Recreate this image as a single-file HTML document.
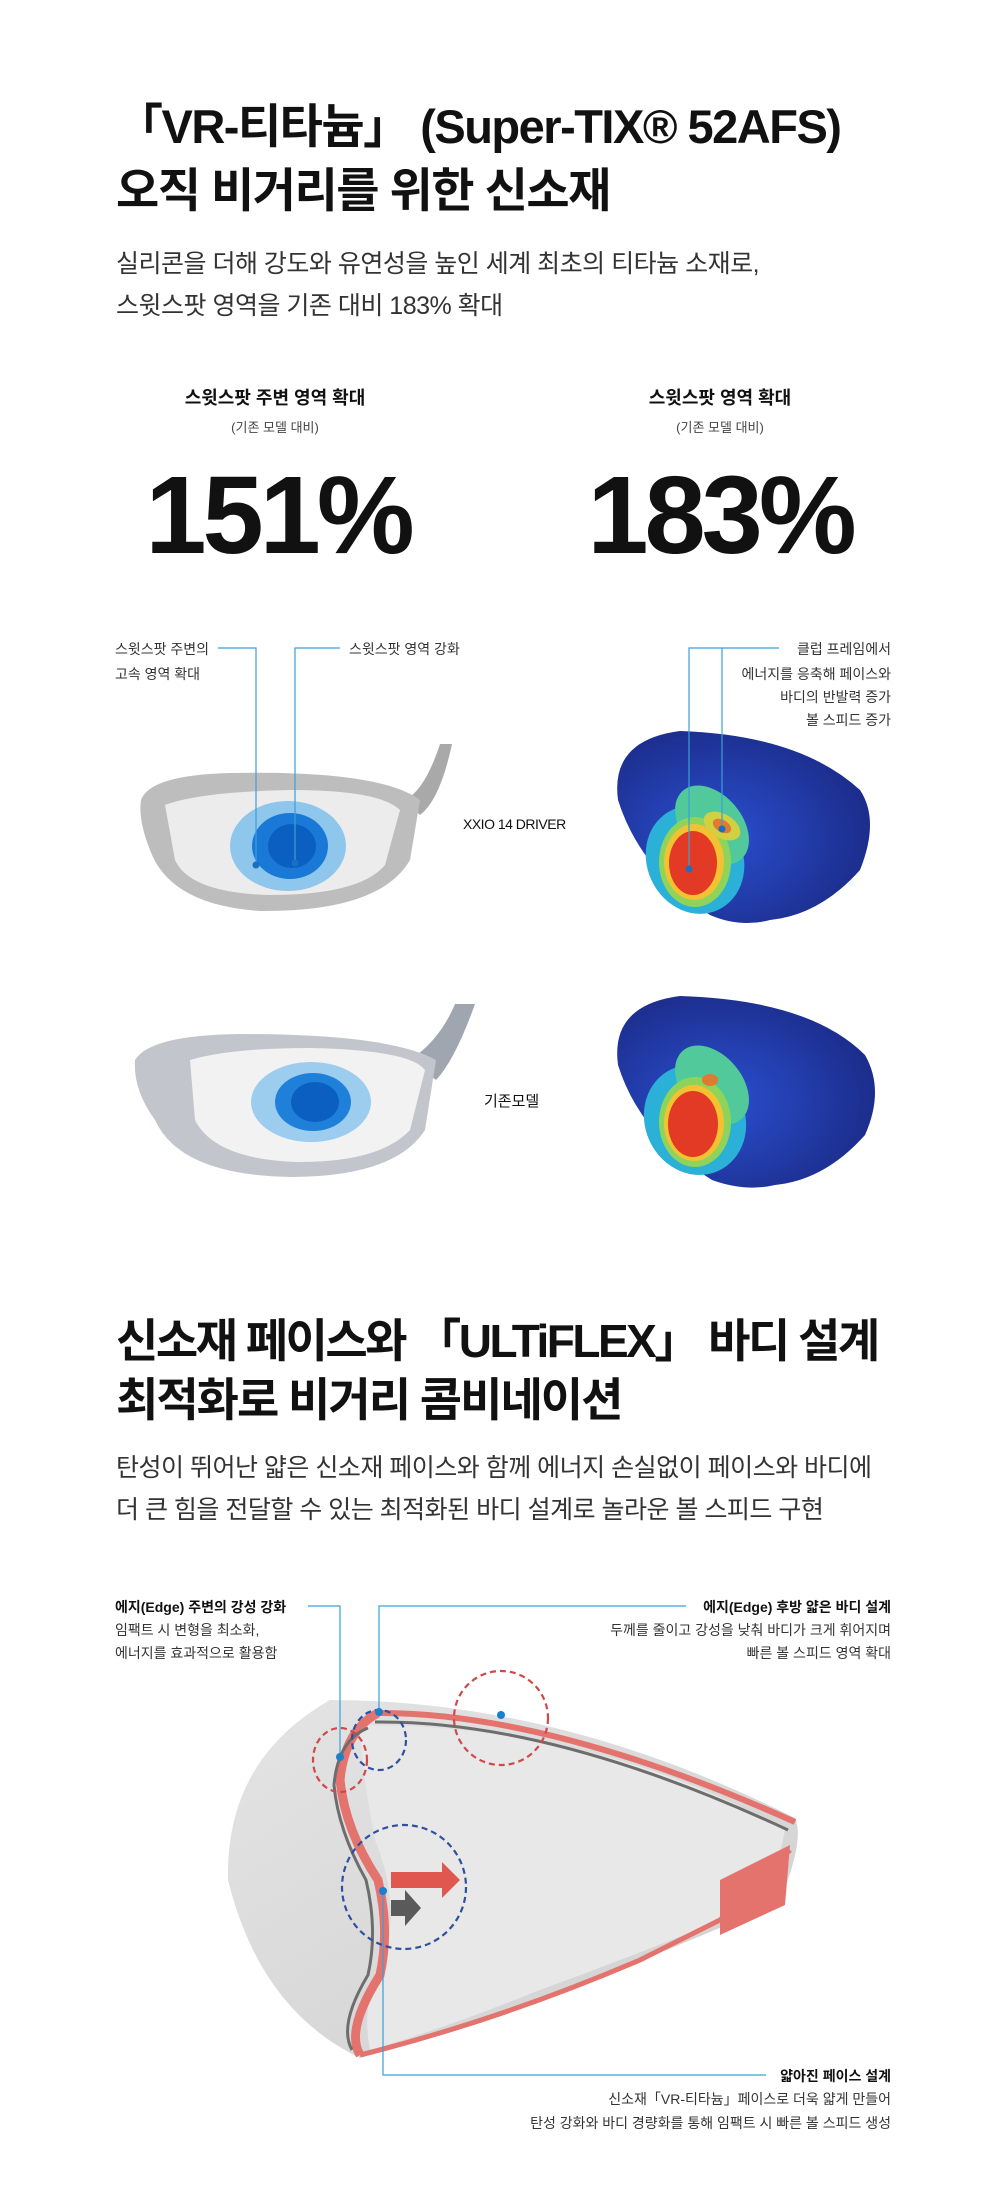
<!DOCTYPE html>
<html><head><meta charset="utf-8"><style>
body{margin:0;background:#fff;}
#p{position:relative;width:1000px;height:2203px;overflow:hidden;font-family:"Liberation Sans","Noto Sans CJK KR",sans-serif;color:#111;}
.t{position:absolute;white-space:nowrap;}
.h1{font-size:47px;font-weight:700;letter-spacing:-1.5px;left:116px;}
.sub{font-size:25px;color:#333;left:116px;letter-spacing:-0.5px;}
.sm{font-size:14px;color:#333;}
.b{font-weight:700;color:#111;}
.r{text-align:right;}
</style></head><body><div id="p">
<div class="t h1" style="top:88px">「VR-티타늄」 (Super-TIX® 52AFS)</div>
<div class="t h1" style="top:152px">오직 비거리를 위한 신소재</div>
<div class="t sub" style="top:244px">실리콘을 더해 강도와 유연성을 높인 세계 최초의 티타늄 소재로,</div>
<div class="t sub" style="top:286px">스윗스팟 영역을 기존 대비 183% 확대</div>

<div class="t" style="left:170px;width:210px;text-align:center;top:384px;font-size:18px;font-weight:700">스윗스팟 주변 영역 확대</div>
<div class="t" style="left:170px;width:210px;text-align:center;top:417px;font-size:13px;color:#444">(기존 모델 대비)</div>
<div class="t" style="left:118px;width:320px;text-align:center;top:452px;font-size:110px;font-weight:700;letter-spacing:-4px">151%</div>
<div class="t" style="left:615px;width:210px;text-align:center;top:384px;font-size:18px;font-weight:700">스윗스팟 영역 확대</div>
<div class="t" style="left:615px;width:210px;text-align:center;top:417px;font-size:13px;color:#444">(기존 모델 대비)</div>
<div class="t" style="left:560px;width:320px;text-align:center;top:452px;font-size:110px;font-weight:700;letter-spacing:-4px">183%</div>

<svg class="t" style="left:0;top:0" width="1000" height="2203">
<defs>
<radialGradient id="hm" cx="0.4" cy="0.55" r="0.6"><stop offset="0" stop-color="#2a4fd0"/><stop offset="1" stop-color="#1c2d8c"/></radialGradient>
<linearGradient id="gh" x1="0" y1="0" x2="1" y2="1"><stop offset="0" stop-color="#e4e4e4"/><stop offset="1" stop-color="#cfcfcf"/></linearGradient>
</defs>
<!-- driver 1 -->
<path d="M405,800 Q425,790 440,744 L452,744 Q440,800 420,815 Z" fill="#a9a9a9"/>
<path d="M141,800 Q150,775 230,773 Q380,770 420,800 L410,860 Q380,912 260,911 Q170,905 150,850 Q138,820 141,800Z" fill="#bdbdbd"/>
<path d="M165,805 Q200,792 290,790 Q380,790 400,810 L385,865 Q360,895 270,895 Q190,893 175,860Z" fill="#ececec"/>
<ellipse cx="288" cy="846" rx="58" ry="45" fill="#8ec6ec"/>
<ellipse cx="290" cy="846" rx="38" ry="33" fill="#1a78d6"/>
<ellipse cx="292" cy="846" rx="24" ry="22" fill="#0b5fc0"/>
<!-- driver 2 -->
<path d="M410,1060 Q440,1040 455,1004 L475,1004 Q455,1060 436,1080Z" fill="#a0a6b0"/>
<path d="M135,1060 Q150,1035 240,1034 Q390,1034 436,1060 L425,1130 Q395,1177 290,1177 Q180,1175 155,1120 Q133,1090 135,1060Z" fill="#c2c6cc"/>
<path d="M190,1060 Q230,1048 310,1048 Q410,1050 425,1070 L410,1130 Q380,1162 300,1162 Q215,1160 195,1120Z" fill="#f2f2f2"/>
<ellipse cx="311" cy="1102" rx="60" ry="40" fill="#9cccee"/>
<ellipse cx="313" cy="1102" rx="38" ry="29" fill="#1f80da"/>
<ellipse cx="315" cy="1102" rx="24" ry="20" fill="#0b5fc0"/>
<!-- heatmap 1 -->
<path d="M680,731 Q800,735 860,790 Q880,820 860,870 Q820,915 770,920 Q740,928 710,915 Q640,870 618,800 Q610,740 680,731Z" fill="url(#hm)"/>
<ellipse cx="695" cy="860" rx="48" ry="55" fill="#2bb0d8" transform="rotate(-25 695 860)"/>
<ellipse cx="712" cy="825" rx="30" ry="45" fill="#52c99a" transform="rotate(-40 712 825)"/>
<ellipse cx="695" cy="862" rx="36" ry="45" fill="#8fd45a"/>
<ellipse cx="694" cy="862" rx="30" ry="38" fill="#f3c232"/>
<ellipse cx="693" cy="863" rx="24" ry="32" fill="#e33a25"/>
<ellipse cx="722" cy="826" rx="20" ry="12" fill="#d0d040" transform="rotate(30 722 826)"/>
<ellipse cx="722" cy="826" rx="10" ry="6" fill="#e07a30" transform="rotate(30 722 826)"/>
<!-- heatmap 2 -->
<path d="M680,996 Q810,1000 865,1055 Q885,1090 865,1135 Q825,1180 775,1185 Q745,1192 712,1180 Q640,1135 618,1065 Q610,1005 680,996Z" fill="url(#hm)"/>
<ellipse cx="695" cy="1120" rx="50" ry="56" fill="#2bb0d8" transform="rotate(-25 695 1120)"/>
<ellipse cx="712" cy="1085" rx="30" ry="45" fill="#52c99a" transform="rotate(-40 712 1085)"/>
<ellipse cx="695" cy="1122" rx="36" ry="45" fill="#8fd45a"/>
<ellipse cx="694" cy="1123" rx="30" ry="38" fill="#f3c232"/>
<ellipse cx="693" cy="1124" rx="25" ry="33" fill="#e33a25"/>
<ellipse cx="710" cy="1080" rx="8" ry="6" fill="#e07a30"/>
<!-- leader lines top -->
<g stroke="#3aa0d8" stroke-width="1.2" fill="none">
<path d="M218,648 H256 V865"/><path d="M340,648 H295 V863"/>
<path d="M779,648 H689 V869"/><path d="M722,648 V829"/>
</g>
<circle cx="256" cy="865" r="3.5" fill="#1a6fc0"/><circle cx="295" cy="863" r="3.5" fill="#1a6fc0"/>
<circle cx="689" cy="869" r="3.5" fill="#1a6fc0"/><circle cx="722" cy="829" r="3.5" fill="#1a6fc0"/>

<!-- cutaway head -->
<path d="M330,1700 Q560,1700 795,1818 Q805,1840 780,1900 Q700,1940 560,1990 Q430,2040 360,2058 Q260,2010 228,1880 Q225,1760 330,1700Z" fill="url(#gh)"/>
<path d="M360,1725 Q600,1725 785,1830 L770,1900 Q650,1950 540,1990 Q440,2030 370,2050 Q360,2000 385,1960 Q400,1900 375,1840 Q360,1760 360,1725Z" fill="#e8e8e8"/>
<path d="M380,1713 Q552,1713 795,1822" stroke="#e4736e" stroke-width="6" fill="none"/>
<path d="M375,1722 Q552,1720 788,1830" stroke="#6d6d6d" stroke-width="3" fill="none"/>
<path d="M378,1713 Q345,1730 340,1780 Q345,1830 378,1880 Q390,1930 380,1975 Q345,2030 360,2055" stroke="#e4736e" stroke-width="9" fill="none"/>
<path d="M368,1728 Q338,1740 334,1785 Q338,1830 366,1880 Q378,1930 368,1975 Q338,2025 352,2050" stroke="#6d6d6d" stroke-width="3" fill="none"/>
<path d="M360,2055 Q500,2020 640,1960 L720,1920 L790,1850" stroke="#e4736e" stroke-width="5" fill="none"/>
<path d="M720,1880 L790,1845 L785,1905 L720,1935Z" fill="#e4736e"/>
<g fill="none" stroke-width="2.2" stroke-dasharray="6 4">
<ellipse cx="379" cy="1740" rx="27" ry="30" stroke="#2f4fa0"/>
<ellipse cx="340" cy="1760" rx="27" ry="32" stroke="#d04848"/>
<ellipse cx="501" cy="1718" rx="47" ry="47" stroke="#d04848"/>
<ellipse cx="404" cy="1887" rx="62" ry="62" stroke="#2f4fa0"/>
</g>
<path d="M391,1872 H442 V1862 L460,1880 L442,1898 V1888 H391Z" fill="#e0574f"/>
<path d="M391,1900 H405 V1890 L421,1908 L405,1926 V1916 H391Z" fill="#5a5a5a"/>
<g stroke="#3aa0d8" stroke-width="1.2" fill="none">
<path d="M308,1606 H340 V1759"/><path d="M686,1606 H379 V1713"/>
<path d="M383,1891 V2075 H766"/>
</g>
<g fill="#1a7fcc"><circle cx="379" cy="1712" r="4"/><circle cx="501" cy="1715" r="4"/><circle cx="340" cy="1757" r="4"/><circle cx="383" cy="1891" r="4"/></g>
</svg>

<div class="t sm" style="left:115px;top:639px">스윗스팟 주변의</div>
<div class="t sm" style="left:115px;top:664px">고속 영역 확대</div>
<div class="t sm" style="left:349px;top:639px">스윗스팟 영역 강화</div>
<div class="t sm r" style="right:109px;top:639px">클럽 프레임에서</div>
<div class="t sm r" style="right:109px;top:664px">에너지를 응축해 페이스와</div>
<div class="t sm r" style="right:109px;top:687px">바디의 반발력 증가</div>
<div class="t sm r" style="right:109px;top:710px">볼 스피드 증가</div>
<div class="t" style="left:463px;top:816px;font-size:14px;letter-spacing:-0.5px">XXIO 14 DRIVER</div>
<div class="t" style="left:484px;top:1090px;font-size:15px">기존모델</div>

<div class="t h1" style="top:1305px;font-size:46px;letter-spacing:-2.5px">신소재 페이스와 「ULTiFLEX」 바디 설계</div>
<div class="t h1" style="top:1364px;font-size:46px;letter-spacing:-2px">최적화로 비거리 콤비네이션</div>
<div class="t sub" style="top:1448px">탄성이 뛰어난 얇은 신소재 페이스와 함께 에너지 손실없이 페이스와 바디에</div>
<div class="t sub" style="top:1490px">더 큰 힘을 전달할 수 있는 최적화된 바디 설계로 놀라운 볼 스피드 구현</div>

<div class="t sm b" style="left:115px;top:1597px">에지(Edge) 주변의 강성 강화</div>
<div class="t sm" style="left:115px;top:1620px">임팩트 시 변형을 최소화,</div>
<div class="t sm" style="left:115px;top:1643px">에너지를 효과적으로 활용함</div>
<div class="t sm b r" style="right:109px;top:1597px">에지(Edge) 후방 얇은 바디 설계</div>
<div class="t sm r" style="right:109px;top:1620px">두께를 줄이고 강성을 낮춰 바디가 크게 휘어지며</div>
<div class="t sm r" style="right:109px;top:1643px">빠른 볼 스피드 영역 확대</div>
<div class="t sm b r" style="right:109px;top:2066px">얇아진 페이스 설계</div>
<div class="t sm r" style="right:109px;top:2089px">신소재「VR-티타늄」페이스로 더욱 얇게 만들어</div>
<div class="t sm r" style="right:109px;top:2113px">탄성 강화와 바디 경량화를 통해 임팩트 시 빠른 볼 스피드 생성</div>
</div></body></html>
